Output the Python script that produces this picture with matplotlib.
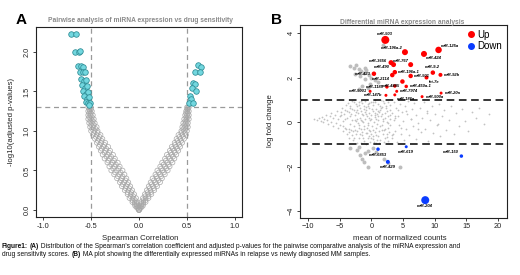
import matplotlib
matplotlib.use("Agg")
import matplotlib.pyplot as plt
from matplotlib.lines import Line2D
from matplotlib.text import Annotation

# ------------------------------------------------------------------ data A
band_y = [0.00, 0.05, 0.10, 0.15, 0.20, 0.25, 0.30, 0.35, 0.40, 0.45, 0.50, 0.55, 0.60, 0.65,
          0.70, 0.75, 0.80, 0.85, 0.90, 0.95, 1.00, 1.05, 1.10, 1.15, 1.20, 1.25, 1.30]
left_in = [0.00, -0.01, -0.02, -0.03, -0.05, -0.07, -0.09, -0.11, -0.13, -0.15, -0.17, -0.20, -0.22, -0.25,
           -0.27, -0.30, -0.32, -0.35, -0.38, -0.40, -0.43, -0.44, -0.46, -0.47, -0.48, -0.49, -0.50]
left_mid = [0.00, -0.025, -0.045, -0.065, -0.085, -0.11, -0.135, -0.155, -0.18, -0.205, -0.23, -0.255, -0.275, -0.305,
            -0.325, -0.35, -0.37, -0.395, -0.42, -0.44, -0.465, -0.475, -0.49, -0.50, -0.505, -0.51, -0.515]
left_out = [0.00, -0.04, -0.07, -0.10, -0.12, -0.15, -0.18, -0.20, -0.23, -0.26, -0.29, -0.31, -0.33, -0.36,
            -0.38, -0.40, -0.42, -0.44, -0.46, -0.48, -0.50, -0.51, -0.52, -0.53, -0.53, -0.53, -0.53]
right_in = [0.00, 0.01, 0.02, 0.04, 0.06, 0.08, 0.10, 0.12, 0.14, 0.17, 0.19, 0.22, 0.24, 0.27,
            0.29, 0.32, 0.34, 0.37, 0.39, 0.41, 0.44, 0.45, 0.46, 0.47, 0.48, 0.49, 0.50]
right_mid = [0.00, 0.025, 0.045, 0.07, 0.095, 0.12, 0.145, 0.17, 0.19, 0.22, 0.245, 0.27, 0.295, 0.32,
             0.34, 0.365, 0.385, 0.41, 0.43, 0.45, 0.47, 0.48, 0.485, 0.495, 0.50, 0.505, 0.51]
right_out = [0.00, 0.04, 0.07, 0.10, 0.13, 0.16, 0.19, 0.22, 0.24, 0.27, 0.30, 0.32, 0.35, 0.37,
             0.39, 0.41, 0.43, 0.45, 0.47, 0.49, 0.50, 0.51, 0.51, 0.52, 0.52, 0.52, 0.52]

band_y2 = [0.025, 0.075, 0.125, 0.175, 0.225, 0.275, 0.325, 0.375, 0.425, 0.475, 0.525, 0.575, 0.625,
           0.675, 0.725, 0.775, 0.825, 0.875, 0.925, 0.975, 1.025, 1.075, 1.125, 1.175, 1.225, 1.275]
left_q1 = [-0.01, -0.025, -0.04, -0.06, -0.08, -0.10, -0.12, -0.14, -0.17, -0.19, -0.21, -0.24, -0.26,
           -0.29, -0.31, -0.34, -0.36, -0.39, -0.41, -0.43, -0.45, -0.47, -0.48, -0.49, -0.50, -0.50]
left_q3 = [-0.02, -0.045, -0.07, -0.09, -0.12, -0.14, -0.17, -0.19, -0.22, -0.25, -0.27, -0.29, -0.32,
           -0.34, -0.36, -0.39, -0.41, -0.43, -0.45, -0.47, -0.49, -0.50, -0.51, -0.52, -0.52, -0.52]
right_q1 = [0.01, 0.025, 0.045, 0.065, 0.09, 0.11, 0.13, 0.155, 0.18, 0.205, 0.23, 0.255, 0.28,
            0.305, 0.33, 0.35, 0.375, 0.40, 0.42, 0.44, 0.46, 0.47, 0.48, 0.49, 0.49, 0.50]
right_q3 = [0.02, 0.045, 0.07, 0.10, 0.125, 0.155, 0.18, 0.205, 0.23, 0.26, 0.285, 0.31, 0.335,
            0.355, 0.375, 0.40, 0.42, 0.44, 0.46, 0.48, 0.49, 0.50, 0.50, 0.51, 0.51, 0.51]

sig_left_r = [-0.71, -0.66, -0.67, -0.63, -0.61, -0.64, -0.60, -0.58, -0.61, -0.58, -0.56,
              -0.60, -0.57, -0.55, -0.59, -0.56, -0.54, -0.58, -0.55, -0.53, -0.57, -0.54, -0.52,
              -0.55, -0.53, -0.51, -0.52]
sig_left_y = [2.23, 2.23, 2.00, 2.00, 2.01, 1.82, 1.82, 1.81, 1.75, 1.75, 1.75,
              1.66, 1.63, 1.65, 1.58, 1.55, 1.57, 1.50, 1.47, 1.49, 1.44, 1.41, 1.43,
              1.37, 1.35, 1.36, 1.33]
sig_right_r = [0.61, 0.65, 0.58, 0.64, 0.56, 0.58, 0.55, 0.59, 0.53, 0.54, 0.52, 0.56]
sig_right_y = [1.83, 1.81, 1.75, 1.75, 1.61, 1.59, 1.55, 1.51, 1.44, 1.40, 1.35, 1.35]

# ------------------------------------------------------------------ data B
cloud_x = [-9.0, -8.6, -8.3, -8.0, -7.8, -7.6, -7.4, -7.2, -7.0, -6.8, -6.6, -6.4, -6.3, -6.1, -6.0,
           -5.8, -5.6, -5.5, -5.3, -5.2, -5.0, -4.9, -4.8, -4.6, -4.5, -4.4, -4.3, -4.2, -4.1, -4.0,
           -3.9, -3.8, -3.7, -3.6, -3.5, -3.4, -3.3, -3.2, -3.1, -3.0, -2.9, -2.8, -2.7, -2.6, -2.5,
           -2.5, -2.4, -2.3, -2.3, -2.2, -2.1, -2.0, -2.0, -1.9, -1.8, -1.8, -1.7, -1.6, -1.6, -1.5,
           -1.4, -1.4, -1.3, -1.2, -1.2, -1.1, -1.0, -1.0, -0.9, -0.8, -0.8, -0.7, -0.6, -0.6, -0.5,
           -0.4, -0.4, -0.3, -0.2, -0.2, -0.1, 0.0, 0.0, 0.1, 0.2, 0.2, 0.3, 0.4, 0.5, 0.5,
           0.6, 0.7, 0.8, 0.8, 0.9, 1.0, 1.1, 1.1, 1.2, 1.3, 1.4, 1.5, 1.5, 1.6, 1.7,
           1.8, 1.9, 2.0, 2.0, 2.1, 2.2, 2.3, 2.4, 2.5, 2.6, 2.7, 2.8, 2.9, 3.0, 3.0,
           -3.5, -3.0, -2.8, -2.2, -1.9, -1.5, -1.3, -0.9, -0.7, -0.5, -0.3, 0.1, 0.3, 0.6, 0.9,
           1.2, 1.6, 1.8, 2.2, 2.6, -2.6, -1.1, 0.4, 1.4, 2.4, -3.2, -0.2, 0.7, -1.7, 1.0,
           3.2, 3.3, 3.5, 3.6, 3.8, 3.9, 4.1, 4.2, 4.4, 4.5, 4.7, 4.8, 5.0, 5.2, 5.3,
           5.5, 5.7, 5.8, 6.0, 6.2, 6.4, 6.5, 6.8, 7.0, 7.1, 7.3, 7.6, 7.8, 8.0, 8.3,
           8.5, 8.7, 9.0, 9.2, 9.5, 9.7, 10.0, 10.3, 10.6, 10.9, 11.2, 11.5, 11.8, 12.2, 12.6,
           13.0, 13.4, 13.9, 14.3, 14.8, 15.3, 15.8, 16.5, 17.0, 17.8, 18.6,
           -4.8, -4.5, -4.2, -3.9, -3.6, -3.3, -3.0, -2.7, -2.4, -2.1, -1.8, -1.5, -1.2, -0.9, -0.6,
           -0.3, 0.0, 0.3, 0.6, 0.9, 1.2, 1.5, 1.8, 2.1, 2.4, 2.7, 3.0, 3.4, 3.8, 4.2,
           -4.0, -3.4, -2.9, -2.6, -2.2, -1.9, -1.6, -1.3, -1.0, -0.7, -0.4, -0.1, 0.2, 0.5, 0.8,
           1.1, 1.4, 1.7, 2.0, 2.3, 2.6, 2.9, 3.2, 3.7, 4.6, 5.4, 6.3, 7.4, 8.8, 10.5]
cloud_y = [0.12, 0.08, 0.18, 0.05, 0.22, -0.02, 0.15, 0.30, 0.08, -0.10, 0.25, 0.40, 0.02, -0.18, 0.18,
           0.33, -0.05, 0.50, -0.28, 0.12, 0.28, -0.15, 0.45, 0.62, -0.40, 0.05, 0.35, -0.25, 0.55, 0.75,
           -0.55, 0.20, 0.85, -0.70, 0.45, -0.10, 0.65, -0.35, 0.95, 0.10, -0.80, 0.55, -0.20, 0.30, 0.80,
           -0.55, 0.05, 0.70, -0.92, -0.40, 0.40, 0.90, -0.15, -0.70, 0.20, 0.62, -0.95, -0.30, 0.48, 0.85,
           -0.60, 0.05, 0.32, -0.85, 0.72, -0.18, 0.95, 0.15, -0.48, 0.55, -0.98, 0.25, -0.70, 0.82, -0.05,
           0.42, -0.35, 0.65, -0.88, 0.10, 0.90, -0.55, 0.30, -0.20, 0.75, -0.75, 0.50, 0.02, -0.45, 0.92,
           0.22, -0.95, 0.60, -0.25, 0.38, -0.65, 0.80, 0.08, -0.40, 0.55, -0.82, 0.28, 0.97, -0.12, 0.68,
           -0.55, 0.15, 0.85, -0.90, 0.42, -0.30, 0.62, 0.00, -0.68, 0.88, 0.25, -0.45, 0.52, -0.15, 0.75,
           -0.30, -0.60, 0.92, 0.12, 0.75, -0.45, -0.02, 0.38, -0.25, 0.70, -0.65, 0.58, -0.35, 0.98, -0.80,
           0.45, -0.38, 0.95, 0.20, -0.85, -0.35, 0.60, -0.90, 0.70, -0.55, 0.35, -0.40, 0.15, 0.10, 0.25,
           0.40, -0.70, 0.90, 0.10, -0.40, 0.65, -0.90, 0.28, -0.12, 0.80, -0.55, 0.45, 0.05, -0.80, 0.70,
           -0.30, 0.35, 0.95, -0.60, 0.15, 0.58, -0.20, 0.85, -0.75, 0.30, -0.05, 0.62, -0.45, 0.20, 0.90,
           -0.30, 0.48, -0.85, 0.08, 0.72, -0.50, 0.35, -0.15, 0.82, -0.65, 0.25, 0.55, -0.35, 0.10, 0.70,
           -0.55, 0.40, -0.20, 0.60, 0.05, -0.40, 0.45, 0.20, 0.62, -0.10, 0.35,
           0.30, -0.20, 0.15, 0.50, -0.45, 0.25, 0.60, -0.70, 0.45, -0.05, -0.55, 0.35, -0.30, 0.68, -0.15,
           0.85, 0.12, -0.62, 0.40, -0.10, -0.95, 0.62, 0.05, -0.72, 0.48, -0.25, 0.33, -0.52, 0.18, 0.55,
           -0.30, 0.72, -0.40, 0.10, 0.52, -0.25, 0.95, -0.70, 0.45, -0.50, 0.20, -0.72, 0.88, 0.30, -0.58,
           0.50, -0.20, 0.38, -0.35, 0.70, -0.05, 0.15, -0.60, 0.25, -0.25, 0.50, 0.12, -0.30, 0.40, -0.10]

gray_big_x = [1.8, -3.3, -2.8, -2.4, -2.0, -1.6, -1.2, -0.8, -0.4, 0.0, 0.5, 1.0, -2.6, -1.8, -1.0,
              -0.2, -2.0, -1.4, -0.6, -0.95,
              -0.5, -1.2, -1.5, 4.5, 2.6, 1.95, -1.8, -1.0, -2.3, -3.3, -0.6, 0.3, -2.0, 0.8]
gray_big_y = [3.47, 2.50, 2.42, 2.55, 2.38, 2.30, 2.20, 2.35, 2.10, 2.00, 1.90, 1.78, 2.15, 2.05, 1.95,
              1.70, 1.49, 1.62, 1.55, 2.42,
              -2.04, -1.79, -1.64, -2.04, -1.86, -1.64, -1.48, -1.41, -1.26, -1.18, -1.30, -1.15, -1.10, -1.35]

up_names = ["miR-503", "miR-196a-2", "miR-125a", "miR-424", "miR-3656", "miR-490", "miR-767",
            "miR-196a-1", "miR-2114", "miR-423", "miR-501", "miR-9-2", "miR-92b", "let-7e",
            "miR-4485", "miR-450a-1", "miR-1185", "", "miR-7974", "miR-5001", "miR-147b",
            "miR-186a", "miR-500a", "miR-20a"]
up_x = [2.2, 5.3, 10.6, 8.3, 3.1, 3.5, 6.2, 3.7, 3.3, 0.4, 6.2, 9.7, 10.9, 8.7,
        4.9, 5.5, 2.45, 3.7, 4.0, -0.2, 2.3, 3.7, 8.0, 11.0]
up_y = [3.69, 3.14, 3.24, 3.06, 2.67, 2.58, 2.58, 2.24, 2.11, 2.17, 2.07, 2.22, 2.12, 2.00,
        1.82, 1.60, 1.58, 1.62, 1.38, 1.38, 1.20, 1.22, 1.14, 1.30]
up_weight = [8, 6, 6.5, 6, 5, 5, 5, 4.5, 4.5, 4.5, 4.5, 4.5, 4, 4,
             4.5, 3.5, 3.5, 3.5, 3, 3, 3, 3, 3, 3]

down_names = ["miR-6853", "miR-619", "miR-429", "miR-150", "miR-204"]
down_x = [1.05, 5.5, 2.6, 14.2, 8.5]
down_y = [-1.22, -1.11, -1.79, -1.53, -3.51]
down_weight = [3.5, 3, 4, 3.5, 8]

# ------------------------------------------------------------------ layout / style
up_lab_pos = ["above", "ul", "ur", "lr", "lu", "ld", "ul", "right", "ll", "left", "right", "above",
              "right", "lr", "ll", "right", "left", "none", "right", "left", "left", "lr", "right", "right"]
down_lab_pos = ["below", "below", "below", "ul", "below"]

W, H = 520, 275
plt.rcParams['font.family'] = ['Liberation Sans', 'DejaVu Sans']
fig = plt.figure(figsize=(W / 100, H / 100), dpi=100)


def frac_box(l, t, r, b):
    return [l / W, 1 - b / H, (r - l) / W, (b - t) / H]


def style_axes(ax):
    for s in ax.spines.values():
        s.set_linewidth(0.8)
        s.set_color('#222222')
    ax.tick_params(direction='out', length=2.5, width=0.6, labelsize=5.3, pad=1.5,
                   colors='#222222', top=False, right=False)
    for lbl in ax.get_yticklabels():
        lbl.set_rotation(90)
        lbl.set_va('center')


# ---------------- panel A
axA = fig.add_axes(frac_box(36, 27, 242, 217))
ring = dict(s=11, facecolors='none', edgecolors='#A8A8A8', linewidths=0.5, zorder=2)
for col in (left_in, left_mid, left_out, right_in, right_mid, right_out):
    axA.scatter(col, band_y, **ring)
for col in (left_q1, left_q3, right_q1, right_q3):
    axA.scatter(col, band_y2, **ring)
cyan = dict(s=16, c='#72D7DF', edgecolors='#2D8B94', linewidths=0.55, zorder=3)
axA.scatter(sig_left_r, sig_left_y, **cyan)
axA.scatter(sig_right_r, sig_right_y, **cyan)
dash_g = dict(color='#9A9A9A', lw=0.9, dashes=(4, 3), zorder=1)
axA.axvline(-0.5, **dash_g)
axA.axvline(0.5, **dash_g)
axA.axhline(1.3, **dash_g)
axA.set_xlim(-1.073, 1.073)
axA.set_ylim(-0.089, 2.316)
axA.set_xticks([-1.0, -0.5, 0.0, 0.5, 1.0])
axA.set_xticklabels(["-1.0", "-0.5", "0.0", "0.5", "1.0"])
axA.set_yticks([0.0, 0.5, 1.0, 1.5, 2.0])
axA.set_yticklabels(["0.0", "0.5", "1.0", "1.5", "2.0"])
style_axes(axA)

# ---------------- panel B
axB = fig.add_axes(frac_box(300, 25, 507, 217.5))
axB.scatter(cloud_x, cloud_y, s=1.6, c='#C2C2C2', linewidths=0, zorder=2)
axB.scatter(gray_big_x, gray_big_y, s=8, c='#BDBDBD', linewidths=0, zorder=2)
axB.scatter(up_x, up_y, s=[(w * 0.72) ** 2 for w in up_weight], c='#FF0000', linewidths=0, zorder=4)
axB.scatter(down_x, down_y, s=[(w * 0.72) ** 2 for w in down_weight], c='#0A3CFF', linewidths=0, zorder=4)
dash_k = dict(color='black', lw=1.1, dashes=(5, 3), zorder=3)
axB.axhline(1.0, **dash_k)
axB.axhline(-1.0, **dash_k)
axB.set_xlim(-11.26, 21.4)
axB.set_ylim(-4.29, 4.36)
axB.set_xticks([-10, -5, 0, 5, 10, 15, 20])
axB.set_yticks([-4, -2, 0, 2, 4])
style_axes(axB)

offs = {"above": ((0, 2.5), 'center', 'bottom'), "below": ((0, -2.5), 'center', 'top'),
        "left": ((-2.5, 0), 'right', 'center'), "right": ((2.5, 0), 'left', 'center'),
        "lu": ((-2.5, 1.3), 'right', 'center'), "ld": ((-2.5, -1.6), 'right', 'center'),
        "ul": ((-1.5, 1.5), 'right', 'bottom'), "ur": ((1.5, 1.5), 'left', 'bottom'),
        "ll": ((-1.5, -1.5), 'right', 'top'), "lr": ((1.5, -1.5), 'left', 'top')}
lab_style = dict(fontsize=3.0, fontweight='bold', fontstyle='italic', color='black', zorder=5,
                 textcoords='offset points')
for names, xs, ys, poss in ((up_names, up_x, up_y, up_lab_pos), (down_names, down_x, down_y, down_lab_pos)):
    for n, x, y, p in zip(names, xs, ys, poss):
        if p == "none" or not n:
            continue
        (dx, dy), ha, va = offs[p]
        axB.annotate(n, (x, y), xytext=(dx, dy), ha=ha, va=va, **lab_style)

handles = [Line2D([], [], ls='', marker='o', color='#FF0000', markersize=4),
           Line2D([], [], ls='', marker='o', color='#0A3CFF', markersize=4)]
axB.legend(handles, ["Up", "Down"], loc='upper right', frameon=False, fontsize=7,
           handlelength=0.8, handletextpad=0.3, labelspacing=0.15, borderaxespad=0.2, borderpad=0.3)

# ---------------- texts
def ftext(x, y, s, **kw):
    return fig.text(x / W, 1 - y / H, s, **kw)

ftext(21, 20, "A", fontsize=11, fontweight='bold', ha='center', va='center')
ftext(277, 20, "B", fontsize=11, fontweight='bold', ha='center', va='center')
ftext(140, 21, "Pairwise analysis of miRNA expression vs drug sensitivity", fontsize=4.75,
      fontweight='bold', color='#8A8A8A', ha='center', va='center')
ftext(402, 22, "Differential miRNA expression analysis", fontsize=4.75,
      fontweight='bold', color='#8A8A8A', ha='center', va='center')
ftext(140, 238, "Spearman Correlation", fontsize=5.6, ha='center', va='center', color='#222222')
ftext(12, 122, "-log10(adjusted p-values)", fontsize=5.6, ha='center', va='center', rotation=90,
      color='#222222')
ftext(400, 238, "mean of normalized counts", fontsize=5.6, ha='center', va='center', color='#222222')
ftext(271, 121, "log fold change", fontsize=5.6, ha='center', va='center', rotation=90, color='#222222')

cap_lines = [
    [("Figure1:", True), (" ", False), ("(A)", True),
     (" Distribution of the Spearman's correlation coefficient and adjusted p-values for the pairwise "
      "comparative analysis of the miRNA expression and", False)],
    [("drug sensitivity scores. ", False), ("(B)", True),
     (" MA plot showing the differentially expressed miRNAs in relapse vs newly diagnosed MM samples.", False)],
]
cap_y = [247.5, 255.3]
cap_size = 4.8
for line, yy in zip(cap_lines, cap_y):
    prev = None
    for s, bold in line:
        kw = dict(fontsize=cap_size, fontweight='bold' if bold else 'normal', color='#111111',
                  va='bottom', ha='left')
        if prev is None:
            prev = ftext(2, yy + 3, s, **kw)
        else:
            ann = Annotation(s, xy=(1, 0), xycoords=prev, **kw)
            fig.add_artist(ann)
            prev = ann

fig.savefig("out.png", dpi=100)
